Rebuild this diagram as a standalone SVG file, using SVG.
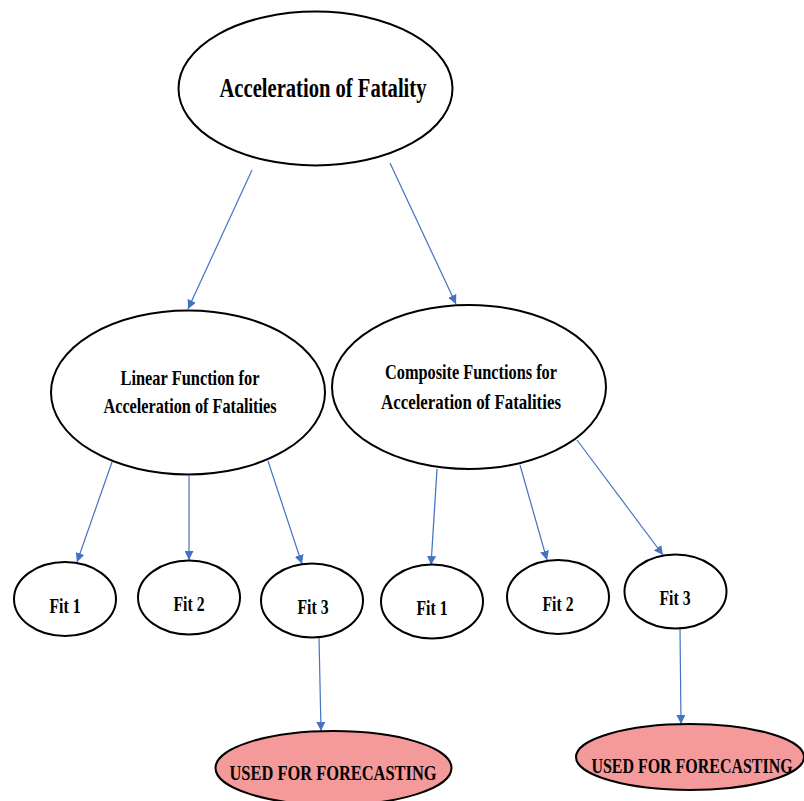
<svg xmlns="http://www.w3.org/2000/svg" width="804" height="801" viewBox="0 0 804 801">
<style>
.n{fill:#fff;stroke:#000;stroke-width:2}
.r{fill:#F59A9A;stroke:#000;stroke-width:2}
.t{font-family:"Liberation Serif","Times New Roman",serif;font-weight:bold;fill:#000;text-anchor:middle}
.c{stroke:#4472C4;stroke-width:1.2;fill:none;marker-end:url(#a)}
</style>
<defs>
<marker id="a" viewBox="0 0 10 10" refX="10" refY="5" markerWidth="9" markerHeight="9" markerUnits="userSpaceOnUse" orient="auto">
<path d="M0,0 L10,5 L0,10 z" fill="#4472C4"/>
</marker>
</defs>
<rect width="804" height="801" fill="#fff"/>
<g id="connectors">
<line class="c" x1="252" y1="170" x2="188" y2="309"/>
<line class="c" x1="390" y1="163" x2="456" y2="304"/>
<line class="c" x1="112" y1="462" x2="77" y2="562"/>
<line class="c" x1="189" y1="476" x2="189" y2="560"/>
<line class="c" x1="268" y1="461" x2="302" y2="564"/>
<line class="c" x1="437" y1="469" x2="431" y2="565"/>
<line class="c" x1="520" y1="465" x2="547" y2="560"/>
<line class="c" x1="577" y1="440" x2="663" y2="555"/>
<line class="c" x1="319" y1="637" x2="321" y2="731"/>
<line class="c" x1="680" y1="628" x2="681" y2="724"/>
</g>
<g id="top">
<ellipse class="n" cx="315.5" cy="88.5" rx="137" ry="77"/>
<text class="t" x="323" y="97" font-size="28" textLength="207" lengthAdjust="spacingAndGlyphs">Acceleration of Fatality</text>
</g>
<g id="linear">
<ellipse class="n" cx="188" cy="392.5" rx="137" ry="82"/>
<text class="t" x="190" y="385" font-size="21" textLength="139" lengthAdjust="spacingAndGlyphs">Linear Function for</text>
<text class="t" x="190" y="413" font-size="21" textLength="173" lengthAdjust="spacingAndGlyphs">Acceleration of Fatalities</text>
</g>
<g id="composite">
<ellipse class="n" cx="469" cy="387" rx="137" ry="82"/>
<text class="t" x="471" y="379" font-size="21" textLength="172" lengthAdjust="spacingAndGlyphs">Composite Functions for</text>
<text class="t" x="471" y="409" font-size="21" textLength="180" lengthAdjust="spacingAndGlyphs">Acceleration of Fatalities</text>
</g>
<g id="lfit1">
<ellipse class="n" cx="65" cy="599" rx="51" ry="37"/>
<text class="t" x="65" y="613" font-size="21" textLength="31" lengthAdjust="spacingAndGlyphs">Fit 1</text>
</g>
<g id="lfit2">
<ellipse class="n" cx="189" cy="597.5" rx="51" ry="37"/>
<text class="t" x="189" y="611" font-size="21" textLength="31" lengthAdjust="spacingAndGlyphs">Fit 2</text>
</g>
<g id="lfit3">
<ellipse class="n" cx="312" cy="600.5" rx="51" ry="37"/>
<text class="t" x="313" y="614" font-size="21" textLength="31" lengthAdjust="spacingAndGlyphs">Fit 3</text>
</g>
<g id="cfit1">
<ellipse class="n" cx="432" cy="601.5" rx="51" ry="37"/>
<text class="t" x="432" y="615" font-size="21" textLength="31" lengthAdjust="spacingAndGlyphs">Fit 1</text>
</g>
<g id="cfit2">
<ellipse class="n" cx="558" cy="597" rx="51" ry="37"/>
<text class="t" x="558" y="611" font-size="21" textLength="31" lengthAdjust="spacingAndGlyphs">Fit 2</text>
</g>
<g id="cfit3">
<ellipse class="n" cx="675.5" cy="591.5" rx="51" ry="37"/>
<text class="t" x="675" y="605" font-size="21" textLength="31" lengthAdjust="spacingAndGlyphs">Fit 3</text>
</g>
<g id="lused">
<ellipse class="r" cx="333.5" cy="768" rx="118" ry="37"/>
<text class="t" x="333" y="780" font-size="21" textLength="207" lengthAdjust="spacingAndGlyphs">USED FOR FORECASTING</text>
</g>
<g id="cused">
<ellipse class="r" cx="690" cy="757" rx="114" ry="33"/>
<text class="t" transform="translate(692,773) scale(0.76,1)" x="0" y="0" font-size="21">USED FOR FORECASTING</text>
</g>
</svg>
